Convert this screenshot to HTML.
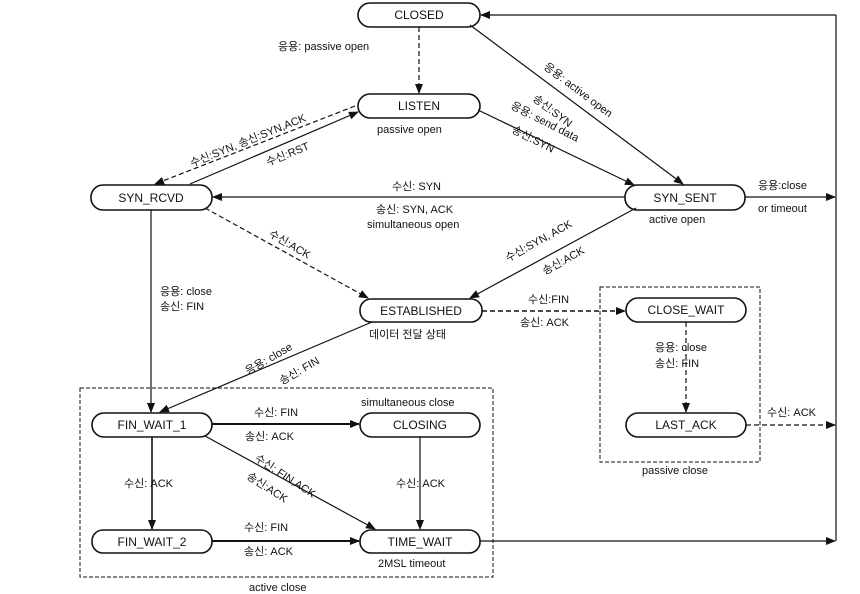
<!DOCTYPE html>
<html><head><meta charset="utf-8"><style>
html,body{margin:0;padding:0;background:#fff}
svg{display:block}
text{font-family:"Liberation Sans","Noto Sans CJK KR",sans-serif;font-size:11px;fill:#111}
.st{font-size:12px;text-anchor:middle}
</style></head><body>
<svg width="860" height="594" viewBox="0 0 860 594" xmlns="http://www.w3.org/2000/svg">
<defs>
<marker id="a" markerWidth="10" markerHeight="8" refX="9" refY="4" orient="auto" markerUnits="userSpaceOnUse"><path d="M0,0 L10,4 L0,8 z" fill="#111"/></marker>
</defs>
<g fill="#fff" stroke="#111" stroke-width="1.6">
<rect x="358" y="3" width="122" height="24" rx="12"/>
<rect x="358" y="94" width="122" height="24" rx="12"/>
<rect x="91" y="185" width="121" height="25" rx="12"/>
<rect x="625" y="185" width="120" height="25" rx="12"/>
<rect x="360" y="299" width="122" height="23" rx="11"/>
<rect x="626" y="298" width="120" height="24" rx="12"/>
<rect x="626" y="413" width="120" height="24" rx="12"/>
<rect x="92" y="413" width="120" height="24" rx="12"/>
<rect x="360" y="413" width="120" height="24" rx="12"/>
<rect x="92" y="530" width="120" height="23" rx="11"/>
<rect x="360" y="530" width="120" height="23" rx="11"/>
</g>
<text class="st" x="419" y="19">CLOSED</text>
<text class="st" x="419" y="110">LISTEN</text>
<text class="st" x="151" y="202">SYN_RCVD</text>
<text class="st" x="685" y="202">SYN_SENT</text>
<text class="st" x="421" y="315">ESTABLISHED</text>
<text class="st" x="686" y="314">CLOSE_WAIT</text>
<text class="st" x="686" y="429">LAST_ACK</text>
<text class="st" x="152" y="429">FIN_WAIT_1</text>
<text class="st" x="420" y="429">CLOSING</text>
<text class="st" x="152" y="546">FIN_WAIT_2</text>
<text class="st" x="420" y="546">TIME_WAIT</text>
<g fill="none" stroke="#111" stroke-dasharray="4,2" stroke-width="1">
<rect x="80" y="388" width="413" height="189"/>
<rect x="600" y="287" width="160" height="175"/>
</g>
<g fill="none" stroke="#111" stroke-width="1.2">
<line x1="419" y1="27" x2="419" y2="93" stroke-dasharray="5,3" marker-end="url(#a)"/>
<line x1="470" y1="25" x2="683" y2="184" marker-end="url(#a)"/>
<line x1="478" y1="110" x2="634" y2="185" marker-end="url(#a)"/>
<line x1="355" y1="106" x2="155" y2="184" stroke-dasharray="5,3" marker-end="url(#a)"/>
<line x1="190" y1="184" x2="358" y2="112" marker-end="url(#a)"/>
<line x1="625" y1="197" x2="213" y2="197" marker-end="url(#a)"/>
<line x1="205" y1="208" x2="368" y2="298" stroke-dasharray="5,3" marker-end="url(#a)"/>
<line x1="636" y1="208" x2="470" y2="298" marker-end="url(#a)"/>
<line x1="151" y1="210" x2="151" y2="412" marker-end="url(#a)"/>
<line x1="372" y1="322" x2="160" y2="412" marker-end="url(#a)"/>
<line x1="482" y1="311" x2="625" y2="311" stroke-dasharray="5,3" stroke-width="1.6" marker-end="url(#a)"/>
<line x1="686" y1="322" x2="686" y2="412" stroke-dasharray="5,3" marker-end="url(#a)"/>
<line x1="746" y1="425" x2="835" y2="425" stroke-dasharray="5,3" marker-end="url(#a)"/>
<line x1="212" y1="424" x2="359" y2="424" stroke-width="2" marker-end="url(#a)"/>
<line x1="152" y1="437" x2="152" y2="529" stroke-width="1.6" marker-end="url(#a)"/>
<line x1="205" y1="436" x2="375" y2="529" marker-end="url(#a)"/>
<line x1="420" y1="437" x2="420" y2="529" marker-end="url(#a)"/>
<line x1="212" y1="541" x2="359" y2="541" stroke-width="2" marker-end="url(#a)"/>
<line x1="480" y1="541" x2="835" y2="541" marker-end="url(#a)"/>
<line x1="745" y1="197" x2="835" y2="197" marker-end="url(#a)"/>
<line x1="836" y1="541" x2="836" y2="15"/>
<line x1="836" y1="15" x2="481" y2="15" marker-end="url(#a)"/>
</g>
<text x="278" y="50">응용: passive open</text>
<text x="377" y="133">passive open</text>
<text x="0" y="0" transform="translate(192,167) rotate(-22)">수신:SYN, 송신:SYN,ACK</text>
<text x="0" y="0" transform="translate(268,166) rotate(-22)">수신:RST</text>
<text x="392" y="190">수신: SYN</text>
<text x="376" y="213">송신: SYN, ACK</text>
<text x="367" y="228">simultaneous open</text>
<text x="0" y="0" transform="translate(268,236) rotate(30)">수신:ACK</text>
<text x="0" y="0" transform="translate(543,68) rotate(37)">응용: active open</text>
<text x="0" y="0" transform="translate(532,100) rotate(37)">송신:SYN</text>
<text x="0" y="0" transform="translate(510,108) rotate(27)">응용: send data</text>
<text x="0" y="0" transform="translate(511,132) rotate(27)">송신:SYN</text>
<text x="649" y="223">active open</text>
<text x="758" y="189">응용:close</text>
<text x="758" y="212">or timeout</text>
<text x="0" y="0" transform="translate(508,262) rotate(-29)">수신:SYN, ACK</text>
<text x="0" y="0" transform="translate(545,275) rotate(-29)">송신:ACK</text>
<text x="160" y="295">응용: close</text>
<text x="160" y="310">송신: FIN</text>
<text x="528" y="303">수신:FIN</text>
<text x="520" y="326">송신: ACK</text>
<text x="369" y="338">데이터 전달 상태</text>
<text x="0" y="0" transform="translate(248,375) rotate(-30)">응용: close</text>
<text x="0" y="0" transform="translate(282,385) rotate(-30)">송신: FIN</text>
<text x="361" y="406">simultaneous close</text>
<text x="254" y="416">수신: FIN</text>
<text x="245" y="440">송신: ACK</text>
<text x="655" y="351">응용: close</text>
<text x="655" y="367">송신: FIN</text>
<text x="767" y="416">수신: ACK</text>
<text x="642" y="474">passive close</text>
<text x="124" y="487">수신: ACK</text>
<text x="0" y="0" transform="translate(254,460) rotate(33)">수신: FIN,ACK</text>
<text x="0" y="0" transform="translate(246,478) rotate(33)">송신:ACK</text>
<text x="396" y="487">수신: ACK</text>
<text x="244" y="531">수신: FIN</text>
<text x="244" y="555">송신: ACK</text>
<text x="378" y="567">2MSL timeout</text>
<text x="249" y="591">active close</text>
</svg>
</body></html>
